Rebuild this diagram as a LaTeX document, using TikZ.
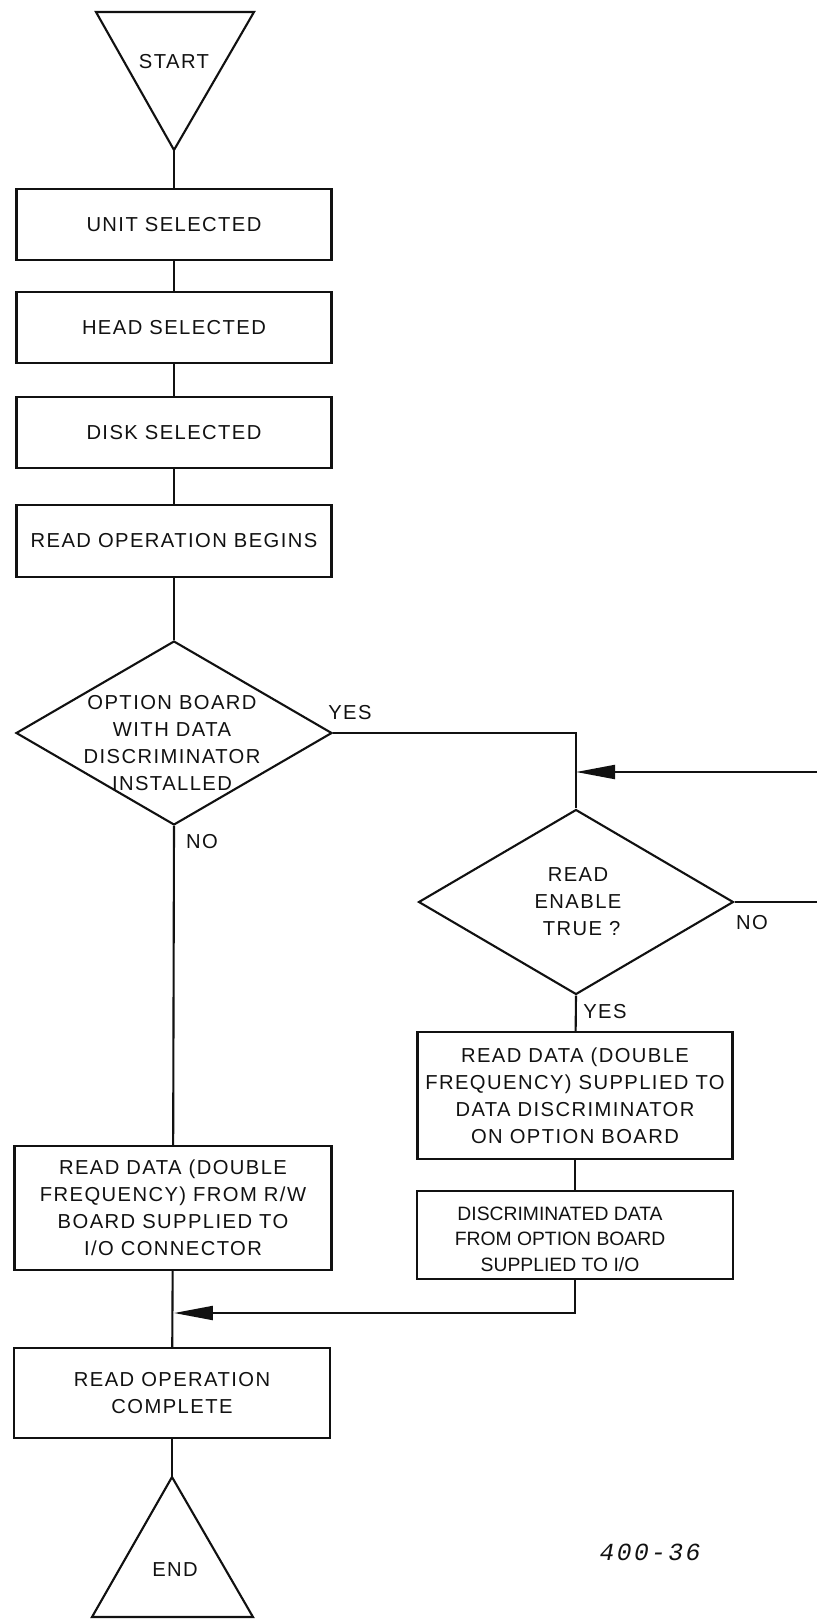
\documentclass[tikz,border=0pt]{standalone}
\usepackage{fontspec}
\setmainfont{Liberation Sans}[LetterSpace=7]
\newfontfamily\narrowfont{Liberation Sans}
\newfontfamily\figfont{Liberation Mono}[LetterSpace=10]
\usepackage{tikz}
\usetikzlibrary{shapes.geometric, arrows.meta, positioning, calc}
\usepackage{xcolor}
\definecolor{ink}{HTML}{111111}

\tikzset{
  flowbox/.style={draw=ink, line width=1.2pt, rectangle, minimum width=6.3cm, minimum height=1.42cm, align=center, inner sep=0pt, text=ink, font=\fontsize{11.5}{15.3}\selectfont},
  decision/.style={draw=ink, line width=1.2pt, diamond, inner sep=0pt, minimum width=6.32cm, minimum height=3.68cm},
  flowtext/.style={align=center, text=ink, font=\fontsize{11.5}{15.3}\selectfont},
  flowline/.style={draw=ink, line width=1.2pt},
  flowarrow/.style={flowline, -{Triangle[length=0.78cm, width=0.28cm]}},
  answer/.style={text=ink, font=\fontsize{11.5}{14}\selectfont}
}

\begin{document}
\begin{tikzpicture}[x=0.02cm, y=-0.02cm]
  \useasboundingbox (0,0) rectangle (817,1619);

  % start
  \draw[flowline] (96,12) -- (254,12) -- (174,150) -- cycle;
  \coordinate (startapex) at (174,150);
  \node[flowtext] (start) at (174,62) {START};

  % left column
  \node[flowbox] (unit) at (174,224.5) {UNIT SELECTED};
  \node[flowbox] (head) at (174,327.5) {HEAD SELECTED};
  \node[flowbox] (disk) at (174,432.5) {DISK SELECTED};
  \node[flowbox, minimum height=1.44cm] (begins) at (174,541) {READ OPERATION BEGINS};

  \node[decision] (optboard) at (174,733) {};
  \node[flowtext] (optboardtxt) at (172,743) {OPTION BOARD\\WITH DATA\\DISCRIMINATOR\\INSTALLED};

  \node[flowbox, minimum width=6.34cm, minimum height=2.48cm] (rwdata) at (173,1208)
    {READ DATA (DOUBLE\\FREQUENCY) FROM R/W\\BOARD SUPPLIED TO\\I/O CONNECTOR};
  \node[flowbox, minimum width=6.32cm, minimum height=1.8cm] (complete) at (172,1393)
    {READ OPERATION\\COMPLETE};

  % end
  \coordinate (endapex) at (172,1477);
  \draw[flowline] (endapex) -- (253,1617) -- (92,1617) -- cycle;
  \node[flowtext] (finish) at (175,1570) {END};

  % right column
  \node[decision, minimum width=6.3cm, minimum height=3.7cm] (readen) at (576,902) {};
  \node[flowtext] (readentxt) at (578,902) {READ\\ENABLE\\\ TRUE ?};

  \node[flowbox, minimum height=2.54cm] (discin) at (575,1095.5)
    {READ DATA (DOUBLE\\FREQUENCY) SUPPLIED TO\\DATA DISCRIMINATOR\\ON OPTION BOARD};
  \node[flowbox, minimum width=6.32cm, minimum height=1.76cm] (discout) at (575,1235) {};
  \node[align=center, text=ink, font={\narrowfont\fontsize{11}{14.5}\selectfont}] (discouttxt) at (560,1239)
    {DISCRIMINATED DATA\\FROM OPTION BOARD\\SUPPLIED TO I/O};

  \coordinate (loopin) at (576,772);
  \coordinate (loopout) at (840,902);
  \coordinate (merge) at (174,1313);

  % connectors
  \draw[flowline] (startapex) -- (unit);
  \draw[flowline] (unit) -- (head);
  \draw[flowline] (head) -- (disk);
  \draw[flowline] (disk) -- (begins);
  \draw[flowline] (begins) -- (optboard.north);
  \draw[flowline] (optboard.east) -| (readen.north);
  \draw[flowline] (optboard.south) -- (rwdata);
  \draw[flowline] (rwdata) -- (complete);
  \draw[flowline] (complete) -- (endapex);
  \draw[flowarrow] (readen.east) -- (loopout) |- (loopin);
  \draw[flowline] (readen.south) -- (discin);
  \draw[flowline] (discin) -- (discout);
  \draw[flowarrow] (discout.south) |- (merge);

  % answers
  \node[answer] (optyes) at (350,713) {YES};
  \node[answer] (optno) at (202,842) {NO};
  \node[answer] (enyes) at (605,1012) {YES};
  \node[answer] (enno) at (752,923) {NO};

  \node[text=ink, font={\figfont\fontsize{14}{16}\selectfont\itshape}] (fignum) at (650,1552) {400-36};
\end{tikzpicture}
\end{document}
